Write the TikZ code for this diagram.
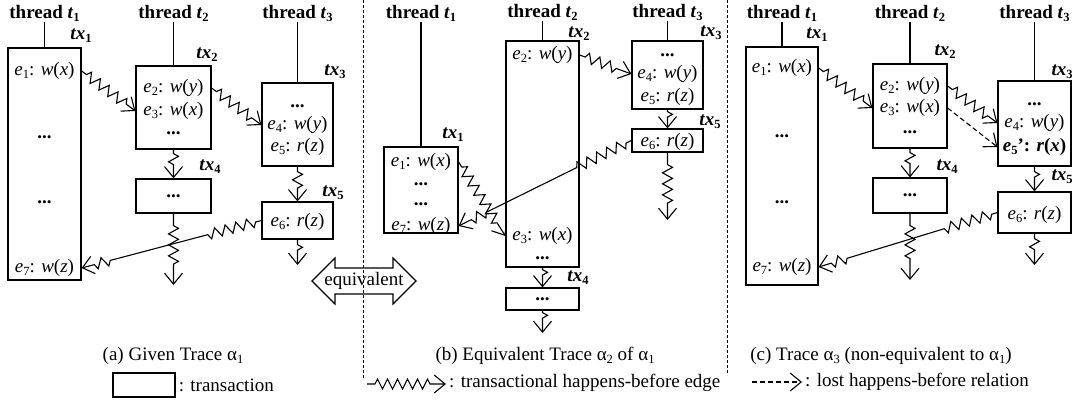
\documentclass[tikz,border=0pt]{standalone}
\usepackage{fontspec}
\setmainfont{Liberation Serif}
\usetikzlibrary{decorations.pathmorphing,arrows.meta,calc}
\newcommand\sbs[1]{\raisebox{-0.35ex}{\fontsize{12.5}{12.5}\selectfont #1}}
\newcommand\evt[3]{\textit{e}\sbs{#1}: \textit{#2}(\textit{#3})}
\newcommand\thr[1]{\textbf{thread \textit{t}\sbs{#1}}}
\newcommand\txl[1]{\textbf{\textit{tx}\sbs{#1}}}
\newcommand\dts{\textbf{...}}
\tikzset{
  txbox/.style={draw, line width=1.2pt, inner sep=0pt},
  lbl/.style={inner sep=1pt, font=\fontsize{19}{21}\selectfont},
  captxt/.style={inner sep=1pt, font=\fontsize{19}{21}\selectfont},
  thrline/.style={line width=1.1pt},
  plainln/.style={line width=1.1pt},
  hbtip/.style={-{Straight Barb[length=11pt,width=18pt,line width=1.1pt]}},
  zz/.style={line width=1.1pt, decorate, decoration={zigzag,amplitude=5pt,segment length=11pt,pre length=6pt,post length=0pt}},
  hb/.style={line width=1.1pt, hbtip, decorate, decoration={zigzag,amplitude=5pt,segment length=11pt,pre length=6pt,post length=11pt}},
  lostrel/.style={line width=1.1pt, hbtip, dash pattern=on 5pt off 3pt},
  sepline/.style={line width=0.9pt, dash pattern=on 3pt off 2pt},
}
\begin{document}
\begin{tikzpicture}[x=1pt,y=-1pt]
\useasboundingbox (0,0) rectangle (1075,399);

% ================= panel (a) =================
\node[txbox,minimum width=73,minimum height=232] (a1) at (44.5,164) {};
\node[txbox,minimum width=75,minimum height=83] (a2) at (173.5,107.5) {};
\node[txbox,minimum width=75,minimum height=34] (a4) at (173.5,196) {};
\node[txbox,minimum width=71,minimum height=83] (a3) at (297.5,124.5) {};
\node[txbox,minimum width=71,minimum height=37] (a5) at (297.5,220.5) {};
\node[lbl] (aT1) at (44.5,13) {\thr{1}};
\node[lbl] (aT2) at (173.5,13) {\thr{2}};
\node[lbl] (aT3) at (297.5,13) {\thr{3}};
\draw[thrline] (aT1.south) -- (a1.north);
\draw[thrline] (aT2.south) -- (a2.north);
\draw[thrline] (aT3.south) -- (a3.north);
\node[lbl] (atx1) at (81,36) {\txl{1}};
\node[lbl] (atx2) at (207,55) {\txl{2}};
\node[lbl] (atx4) at (210,167) {\txl{4}};
\node[lbl] (atx3) at (335,72) {\txl{3}};
\node[lbl] (atx5) at (333,193) {\txl{5}};
\node[lbl] (a-e1) at (44.5,71) {\evt{1}{w}{x}};
\node[lbl] (a-d1) at (44.5,137) {\dts};
\node[lbl] (a-d2) at (44.5,202) {\dts};
\node[lbl] (a-e7) at (44.5,268) {\evt{7}{w}{z}};
\node[lbl] (a-e2) at (173.5,88) {\evt{2}{w}{y}};
\node[lbl] (a-e3) at (173.5,111) {\evt{3}{w}{x}};
\node[lbl] (a-d3) at (173.5,133) {\dts};
\node[lbl] (a-d4) at (173.5,196) {\dts};
\node[lbl] (a-d5) at (297.5,106) {\dts};
\node[lbl] (a-e4) at (297.5,125) {\evt{4}{w}{y}};
\node[lbl] (a-e5) at (297.5,147) {\evt{5}{r}{z}};
\node[lbl] (a-e6) at (297.5,222) {\evt{6}{r}{z}};
\coordinate (a4end) at (173.5,285);
\coordinate (a5end) at (297.5,265);
\draw[hb] (a1.east |- a-e1) -- (a2.west |- a-e3);
\draw[hb] (a2.east |- a-e2) -- (a3.west |- a-e4);
\draw[hb,decoration={pre length=4pt,post length=12pt}] (a2.south) -- (a4.north);
\draw[hb,decoration={pre length=12pt,post length=20pt}] (a4.south) -- (a4end);
\draw[hb,decoration={pre length=5pt,post length=12pt}] (a3.south) -- (a5.north);
\draw[hb,decoration={pre length=5pt,post length=12pt}] (a5.south) -- (a5end);
\coordinate (aLa) at (a5.west);
\coordinate (aLb) at (a1.east |- a-e7);
\draw[zz] (aLa) -- ($(aLa)!0.32!(aLb)$) coordinate (aLm1);
\draw[plainln] (aLm1) -- ($(aLa)!0.83!(aLb)$) coordinate (aLm2);
\draw[hb,decoration={pre length=2pt,post length=11pt}] (aLm2) -- (aLb);

% ================= panel (b) =================
\node[txbox,minimum width=74,minimum height=86] (b1) at (421,190) {};
\node[txbox,minimum width=73,minimum height=226] (b2) at (542.5,154) {};
\node[txbox,minimum width=73,minimum height=22] (b4) at (542.5,299) {};
\node[txbox,minimum width=71,minimum height=68] (b3) at (667.5,75) {};
\node[txbox,minimum width=71,minimum height=23] (b5) at (667.5,140.5) {};
\node[lbl] (bT1) at (421,13) {\thr{1}};
\node[lbl] (bT2) at (542.5,12) {\thr{2}};
\node[lbl] (bT3) at (667.5,12) {\thr{3}};
\draw[thrline] (bT1.south) -- (b1.north);
\draw[thrline] (bT2.south) -- (b2.north);
\draw[thrline] (bT3.south) -- (b3.north);
\node[lbl] (btx1) at (453,135) {\txl{1}};
\node[lbl] (btx2) at (579,34) {\txl{2}};
\node[lbl] (btx4) at (578,278) {\txl{4}};
\node[lbl] (btx3) at (711,33) {\txl{3}};
\node[lbl] (btx5) at (710,122) {\txl{5}};
\node[lbl] (b-e1) at (421,162) {\evt{1}{w}{x}};
\node[lbl] (b-d1) at (421,184) {\dts};
\node[lbl] (b-d2) at (421,204) {\dts};
\node[lbl] (b-e7) at (421,226) {\evt{7}{w}{z}};
\node[lbl] (b-e2) at (542.5,55) {\evt{2}{w}{y}};
\node[lbl] (b-e3) at (542.5,236) {\evt{3}{w}{x}};
\node[lbl] (b-d3) at (542.5,258) {\dts};
\node[lbl] (b-d4) at (542.5,299) {\dts};
\node[lbl] (b-d5) at (667.5,55) {\dts};
\node[lbl] (b-e4) at (667.5,74) {\evt{4}{w}{y}};
\node[lbl] (b-e5) at (667.5,97) {\evt{5}{r}{z}};
\node[lbl] (b-e6) at (667.5,142) {\evt{6}{r}{z}};
\coordinate (b4end) at (542.5,333);
\coordinate (b5end) at (667.5,220);
\draw[hb] (b2.east |- b-e2) -- (b3.west |- b-e4);
\draw[hb] (b1.east |- b-e1) -- (b2.west |- b-e3);
\draw[hb,decoration={pre length=2pt,post length=10pt}] (b2.south) -- (b4.north);
\draw[hb,decoration={pre length=2pt,post length=11pt}] (b4.south) -- (b4end);
\draw[hb,decoration={pre length=2pt,post length=10pt}] (b3.south) -- (b5.north);
\draw[hb,decoration={pre length=12pt,post length=14pt}] (b5.south) -- (b5end);
\coordinate (bLa) at (b5.west);
\coordinate (bLb) at (b1.east |- b-e7);
\draw[zz] (bLa) -- ($(bLa)!0.32!(bLb)$) coordinate (bLm1);
\draw[plainln] (bLm1) -- ($(bLa)!0.83!(bLb)$) coordinate (bLm2);
\draw[hb,decoration={pre length=2pt,post length=11pt}] (bLm2) -- (bLb);

% ================= panel (c) =================
\node[txbox,minimum width=72,minimum height=238] (c1) at (782,166) {};
\node[txbox,minimum width=74,minimum height=84] (c2) at (910,106) {};
\node[txbox,minimum width=74,minimum height=35] (c4) at (910,195.5) {};
\node[txbox,minimum width=73,minimum height=85] (c3) at (1034.5,123.5) {};
\node[txbox,minimum width=73,minimum height=41] (c5) at (1034.5,212.5) {};
\node[lbl] (cT1) at (782,13) {\thr{1}};
\node[lbl] (cT2) at (910,13) {\thr{2}};
\node[lbl] (cT3) at (1034.5,13) {\thr{3}};
\draw[thrline] (cT1.south) -- (c1.north);
\draw[thrline] (cT2.south) -- (c2.north);
\draw[thrline] (cT3.south) -- (c3.north);
\node[lbl] (ctx1) at (817,35) {\txl{1}};
\node[lbl] (ctx2) at (945,52) {\txl{2}};
\node[lbl] (ctx4) at (947,167) {\txl{4}};
\node[lbl] (ctx3) at (1062,72) {\txl{3}};
\node[lbl] (ctx5) at (1062,177) {\txl{5}};
\node[lbl] (c-e1) at (782,68) {\evt{1}{w}{x}};
\node[lbl] (c-d1) at (782,136) {\dts};
\node[lbl] (c-d2) at (782,202) {\dts};
\node[lbl] (c-e7) at (782,267) {\evt{7}{w}{z}};
\node[lbl] (c-e2) at (910,86) {\evt{2}{w}{y}};
\node[lbl] (c-e3) at (910,108) {\evt{3}{w}{x}};
\node[lbl] (c-d3) at (910,132) {\dts};
\node[lbl] (c-d4) at (910,195.5) {\dts};
\node[lbl] (c-d5) at (1034.5,104) {\dts};
\node[lbl] (c-e4) at (1034.5,123) {\evt{4}{w}{y}};
\node[lbl] (c-e5) at (1034.5,147) {\textbf{\textit{e}\sbs{5}': \textit{r}(\textit{x})}};
\node[lbl] (c-e6) at (1034.5,215) {\evt{6}{r}{z}};
\coordinate (c4end) at (910,280);
\coordinate (c5end) at (1034.5,265);
\draw[hb] (c1.east |- c-e1) -- (c2.west |- c-e3);
\draw[hb] (c2.east |- c-e2) -- (c3.west |- c-e4);
\draw[lostrel] (c2.east |- c-e3) -- (c3.west |- c-e5);
\draw[hb,decoration={pre length=4pt,post length=12pt}] (c2.south) -- (c4.north);
\draw[hb,decoration={pre length=12pt,post length=20pt}] (c4.south) -- (c4end);
\draw[hb,decoration={pre length=5pt,post length=12pt}] (c3.south) -- (c5.north);
\draw[hb,decoration={pre length=5pt,post length=12pt}] (c5.south) -- (c5end);
\coordinate (cLa) at (c5.west);
\coordinate (cLb) at (c1.east |- c-e7);
\draw[zz] (cLa) -- ($(cLa)!0.32!(cLb)$) coordinate (cLm1);
\draw[plainln] (cLm1) -- ($(cLa)!0.83!(cLb)$) coordinate (cLm2);
\draw[hb,decoration={pre length=2pt,post length=11pt}] (cLm2) -- (cLb);

% ================= separators, equivalent arrow =================
\draw[sepline] (363,0) -- (363,378);
\draw[sepline] (727,0) -- (727,375);
\node[captxt] (eqv) at (364,281) {equivalent};
\draw[line width=1.1pt] (312,281) -- (335,258) -- (335,268) -- (393,268) -- (393,258)
  -- (416,281) -- (393,304) -- (393,294) -- (335,294) -- (335,304) -- cycle;

% ================= captions and legend =================
\node[captxt] (capa) at (173,356) {(a) Given Trace α\sbs{1}};
\node[captxt] (capb) at (545,356) {(b) Equivalent Trace α\sbs{2} of α\sbs{1}};
\node[captxt] (capc) at (881,356) {(c) Trace α\sbs{3} (non-equivalent to α\sbs{1})};
\node[txbox,minimum width=62,minimum height=24] (lgbox) at (144,385) {};
\node[captxt,anchor=west] (lgt1) at ([xshift=2pt]lgbox.east) {: transaction};
\coordinate (lz1) at (367,384);
\coordinate (lz2) at (446,384);
\draw[hb,decoration={segment length=10pt,pre length=8pt,post length=16pt}] (lz1) -- (lz2);
\node[captxt,anchor=west] (lgt2) at (448,383) {: transactional happens-before edge};
\coordinate (ld1) at (752,382);
\coordinate (ld2) at (802,382);
\draw[lostrel] (ld1) -- (ld2);
\node[captxt,anchor=west] (lgt3) at (804,382) {: lost happens-before relation};
\end{tikzpicture}
\end{document}
